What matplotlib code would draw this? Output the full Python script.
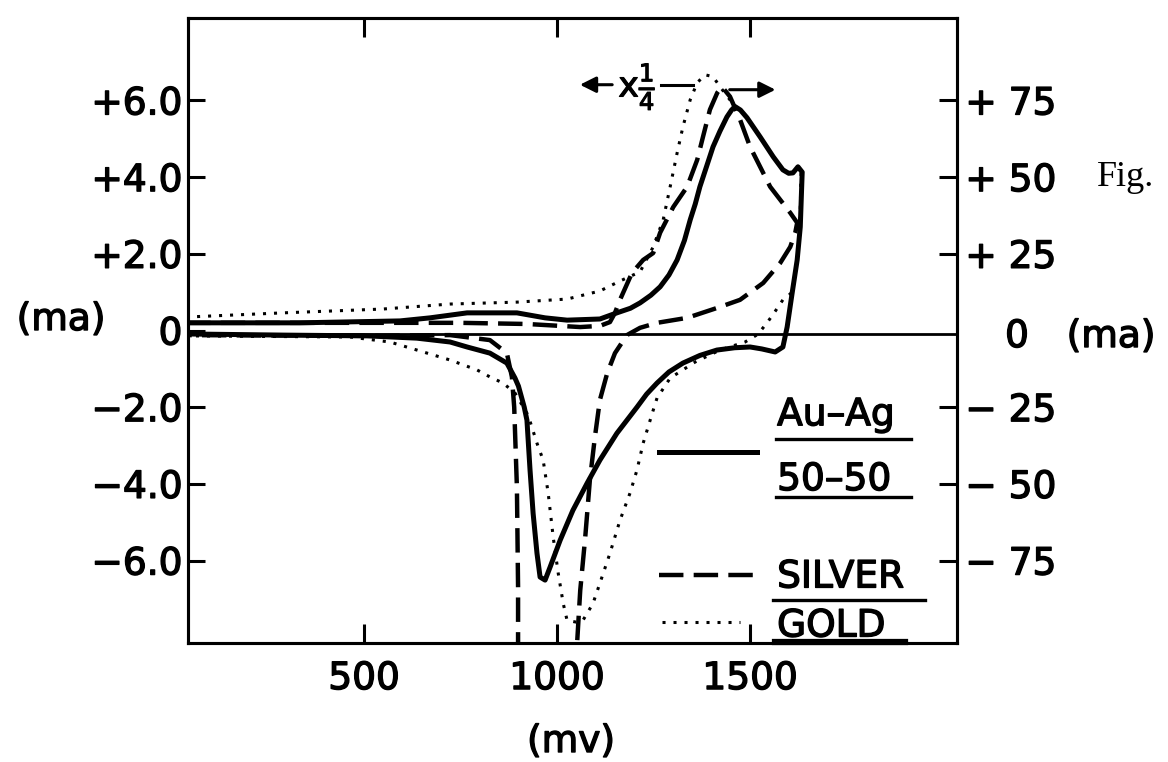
import matplotlib
matplotlib.use("Agg")
import matplotlib.pyplot as plt
from matplotlib import patheffects as pe

# ---- voltammogram traces: potential (mV) and current (mA), full cycle ----
alloy_mv = [39, 334, 593, 671, 767, 896, 969, 1026, 1111, 1155, 1190, 1215, 1243, 1267,
            1290, 1311, 1330, 1345, 1358, 1370, 1388, 1404, 1422, 1440, 1452, 1461, 1475,
            1492, 1526, 1560, 1585, 1600, 1611, 1624, 1635, 1630, 1622, 1609, 1596, 1585,
            1565, 1530, 1500, 1460, 1414, 1370, 1326, 1290, 1259, 1232, 1207, 1155, 1111,
            1078, 1041, 1008, 982, 969, 956, 948, 938, 930, 922, 915, 900, 891, 870, 826,
            767, 723, 637, 508, 290, 39]
alloy_ma = [0.20, 0.20, 0.25, 0.33, 0.46, 0.46, 0.33, 0.27, 0.30, 0.46, 0.58, 0.72, 0.92,
            1.14, 1.45, 1.84, 2.35, 2.89, 3.30, 3.75, 4.30, 4.79, 5.20, 5.57, 5.75, 5.84,
            5.75, 5.55, 5.05, 4.53, 4.19, 4.10, 4.11, 4.27, 4.13, 2.70, 1.84, 0.98, 0.09,
            -0.43, -0.56, -0.48, -0.43, -0.45, -0.51, -0.65, -0.85, -1.08, -1.37, -1.66,
            -2.00, -2.68, -3.38, -3.98, -4.69, -5.47, -6.17, -6.51, -6.43, -5.81, -4.77,
            -3.64, -2.34, -2.00, -1.45, -1.24, -0.85, -0.59, -0.43, -0.30, -0.20, -0.14,
            -0.12, -0.09]

silver_mv = [39, 508, 749, 922, 1060, 1111, 1137, 1150, 1163, 1194, 1223, 1249, 1267, 1301,
             1337, 1363, 1378, 1396, 1415, 1427, 1448, 1474, 1500, 1526, 1552, 1578, 1604,
             1622, 1617, 1604, 1578, 1534, 1474, 1415, 1337, 1259, 1215, 1181, 1150, 1130,
             1111, 1098, 1085, 1073, 1060, 1044, 899, 899, 896, 889, 883, 870, 826, 723,
             508, 39]
silver_ma = [0.20, 0.20, 0.20, 0.17, 0.09, 0.12, 0.22, 0.46, 0.80, 1.50, 1.84, 2.02, 2.55,
             3.22, 3.75, 4.45, 5.05, 5.76, 6.20, 6.36, 6.10, 5.50, 4.79, 4.27, 3.75, 3.41,
             3.07, 2.81, 2.55, 2.18, 1.76, 1.24, 0.80, 0.59, 0.33, 0.20, 0.07, -0.12,
             -0.59, -1.11, -1.81, -2.78, -3.90, -5.39, -6.78, -9.5, -9.5, -6.70, -4.09,
             -2.00, -1.21, -0.59, -0.25, -0.12, -0.14, -0.12]

gold_mv = [39, 290, 549, 723, 896, 1026, 1111, 1163, 1215, 1249, 1275, 1293, 1311, 1326,
           1345, 1363, 1383, 1404, 1422, 1440, 1461, 1475, 1492, 1526, 1560, 1585, 1611,
           1632, 1629, 1622, 1609, 1598, 1585, 1565, 1544, 1520, 1487, 1422, 1358, 1293,
           1259, 1249, 1223, 1207, 1189, 1163, 1137, 1111, 1093, 1067, 1052, 1026, 1016,
           1003, 990, 977, 964, 948, 925, 891, 860, 826, 793, 723, 637, 567, 464, 39]
gold_ma = [0.35, 0.46, 0.56, 0.69, 0.74, 0.82, 1.03, 1.29, 1.53, 2.18, 2.89, 3.75, 4.63,
           5.31, 6.02, 6.46, 6.67, 6.62, 6.36, 6.12, 5.84, 5.75, 5.55, 5.05, 4.53, 4.19,
           4.11, 4.13, 2.70, 1.84, 1.00, 0.90, 0.80, 0.50, 0.20, -0.10, -0.30, -0.51,
           -0.82, -1.24, -1.76, -2.08, -2.94, -3.64, -4.24, -4.95, -5.81, -6.59, -7.12,
           -7.56, -7.61, -7.56, -7.12, -6.33, -5.39, -4.24, -3.38, -2.94, -2.21, -1.63,
           -1.37, -1.21, -1.03, -0.77, -0.51, -0.30, -0.17, -0.14]

x_ticks = [500, 1000, 1500]
x_tick_labels = ["500", "1000", "1500"]
left_ticks = [-6, -4, -2, 0, 2, 4, 6]
left_tick_labels = ["\u22126.0", "\u22124.0", "\u22122.0", "0", "+2.0", "+4.0", "+6.0"]
right_ticks = [-75, -50, -25, 25, 50, 75]
right_tick_labels = ["\u2212 75", "\u2212 50", "\u2212 25", "+ 25", "+ 50", "+ 75"]
right_scale = 12.5  # right-hand current scale relative to the left one

# ---- figure ----
W, H, DPI = 1168, 762, 100
plt.rcParams["font.family"] = ["DejaVu Sans"]
FS = 27
thick = [pe.withStroke(linewidth=1.0, foreground="black")]

fig = plt.figure(figsize=(W / DPI, H / DPI), dpi=DPI)
fig.patch.set_facecolor("white")
ax = fig.add_axes([188 / W, 1 - 643 / H, 769 / W, 625 / H])
ax.set_xlim(44, 2036)
ax.set_ylim(-8.15, 8.15)
for s in ax.spines.values():
    s.set_linewidth(2.2)

ax.axhline(-0.1, color="black", lw=2.0, zorder=2)

DOTS = (0, (1.0, 2.6))
DASHES = (0, (5.5, 2.3))
ax.plot(gold_mv, gold_ma, color="black", lw=2.2, linestyle=DOTS, zorder=3)
ax.plot(silver_mv, silver_ma, color="black", lw=3.2, linestyle=DASHES, zorder=4)
ax.plot(alloy_mv, alloy_ma, color="black", lw=3.6, solid_joinstyle="round",
        solid_capstyle="round", zorder=5)

# scale-change marker above the anodic peaks
ax.annotate("", xy=(1052, 6.41), xytext=(1150, 6.41),
            arrowprops=dict(arrowstyle="-|>", lw=2.2, color="black", mutation_scale=24))
ax.plot([1268, 1352], [6.41, 6.41], color="black", lw=2.2)
ax.annotate("", xy=(1573, 6.28), xytext=(1440, 6.28),
            arrowprops=dict(arrowstyle="-|>", lw=2.2, color="black", mutation_scale=24))
ax.text(1208, 6.36, r"x$\frac{1}{4}$", ha="center", va="center", fontsize=25,
        path_effects=[pe.withStroke(linewidth=0.8, foreground="black")])

# hand-lettered key
key_style = dict(color="black", clip_on=False)
ax.plot([1264, 1518], [-3.17, -3.17], lw=3.6, **key_style)
ax.plot([1264, 1510], [-6.38, -6.38], lw=3.2, linestyle=DASHES, **key_style)
ax.plot([1272, 1474], [-7.61, -7.61], lw=2.2, linestyle=DOTS, **key_style)
for label, y in [("Au\u2013Ag", -2.21), ("50\u201350", -3.90), ("SILVER", -6.44),
                 ("GOLD", -7.72)]:
    ax.text(1570, y, label, ha="left", va="center", fontsize=FS, path_effects=thick)
for x0, x1, y, lw in [(1567, 1917, -2.83, 2.4), (1567, 1917, -4.35, 2.4),
                      (1560, 1953, -7.04, 2.4), (1565, 1902, -8.12, 4.5)]:
    ax.plot([x0, x1], [y, y], color="black", lw=lw, clip_on=False)

# axes ticks and labels
ax.set_xticks(x_ticks)
ax.set_xticklabels(x_tick_labels)
ax.tick_params(axis="x", direction="in", length=14, width=2.2, top=True, pad=13,
               labelsize=FS)
ax.set_yticks(left_ticks)
ax.set_yticklabels(left_tick_labels)
ax.tick_params(axis="y", direction="in", length=12, width=2.2, pad=4, labelsize=FS)

ax2 = ax.twinx()
ax2.set_ylim(-8.15 * right_scale, 8.15 * right_scale)
ax2.set_yticks(right_ticks)
ax2.set_yticklabels(right_tick_labels)
ax2.tick_params(axis="y", direction="in", length=13, width=2.2, pad=6, labelsize=FS)
for s in ax2.spines.values():
    s.set_linewidth(2.2)

for lbl in ax.get_xticklabels() + ax.get_yticklabels() + ax2.get_yticklabels():
    lbl.set_path_effects(thick)

fig.text(61 / W, 1 - 320 / H, "(ma)", ha="center", va="center", fontsize=FS,
         path_effects=thick)
fig.text(1017 / W, 1 - 337 / H, "0", ha="center", va="center", fontsize=FS,
         path_effects=thick)
fig.text(1111 / W, 1 - 337 / H, "(ma)", ha="center", va="center", fontsize=FS,
         path_effects=thick)
fig.text(571 / W, 1 - 742 / H, "(mv)", ha="center", va="center", fontsize=FS,
         path_effects=thick)
fig.text(1097 / W, 1 - 177 / H, "Fig.", ha="left", va="center", fontsize=26,
         family="Liberation Serif")

fig.savefig("out.png", dpi=DPI)
